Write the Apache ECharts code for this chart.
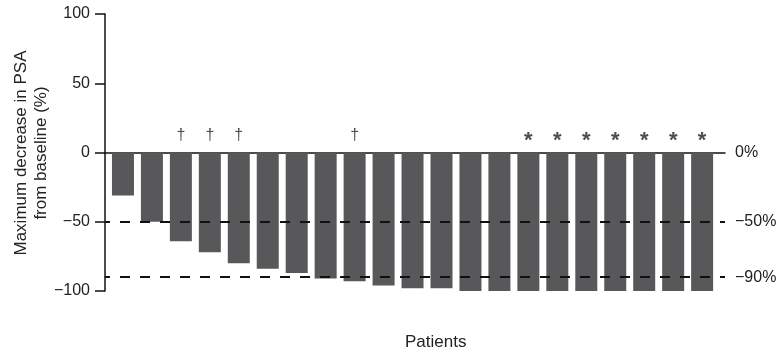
<!DOCTYPE html>
<html><head><meta charset="utf-8">
<script src="https://cdn.jsdelivr.net/npm/echarts@6/dist/echarts.min.js"></script>
<style>html,body{margin:0;padding:0;background:#fff}#c{width:779px;height:360px}</style>
</head><body><div id="c"></div>
<script>
const patients = ['1','2','3','4','5','6','7','8','9','10','11','12','13','14','15','16','17','18','19','20','21'];
const psaDecrease = [-31,-50,-64,-72,-80,-84,-87,-91,-93,-96,-98,-98,-100,-100,-100,-100,-100,-100,-100,-100,-100];
const daggerPatients = [2,3,4,8];
const starPatients = [14,15,16,17,18,19,20];
const markerLevel = 12;
const yTicks = [-100,-50,0,50,100];
const thresholds = [-50,-90];
const rightLabels = ['0%','−50%','−90%'];

const FONT = 'Liberation Sans, Arial, sans-serif';
const chart = echarts.init(document.getElementById('c'));
const barData = psaDecrease.map((v,i)=>[i,v]);
const markData = daggerPatients.map(i=>({value:[i,markerLevel],sym:'†',label:{fontSize:16,offset:[0,0]}}))
  .concat(starPatients.map(i=>({value:[i,markerLevel],sym:'*',label:{fontSize:22,fontWeight:'bold',offset:[0,5]}})));

chart.setOption({
  animation:false,
  textStyle:{fontFamily:FONT},
  grid:{left:105,right:54,top:14,bottom:69},
  xAxis:{type:'value',min:-0.62,max:20.79,
    axisLine:{show:true,onZero:true,lineStyle:{color:'#111',width:1.5}},
    axisTick:{show:false},axisLabel:{show:false},splitLine:{show:false}},
  yAxis:{type:'value',min:-100,max:100,interval:50,
    axisLine:{show:true,onZero:false,lineStyle:{color:'#111',width:1.5}},
    axisTick:{show:true,length:10,lineStyle:{color:'#111',width:1.5}},
    axisLabel:{color:'#222',fontSize:16,margin:15,fontFamily:FONT,
      formatter:v=>String(v).replace('-','−')},
    splitLine:{show:false}},
  graphic:[
    {type:'text',left:405,top:334,style:{text:'Patients',fill:'#222',font:'17px '+FONT}},
    {type:'text',x:31,y:153,rotation:Math.PI/2,
      style:{text:'Maximum decrease in PSA\nfrom baseline (%)',fill:'#222',font:'17px '+FONT,
        align:'center',verticalAlign:'middle',lineHeight:20}}
  ],
  series:[
    {type:'line',data:[],z:1,
      markLine:{silent:true,symbol:'none',
        data:[
          {yAxis:0,lineStyle:{color:'rgba(0,0,0,0)'},label:{formatter:rightLabels[0]}},
          {yAxis:thresholds[0],label:{formatter:rightLabels[1]}},
          {yAxis:thresholds[1],label:{formatter:rightLabels[2]}}
        ],
        lineStyle:{type:[10,10],dashOffset:5,color:'#111',width:2},
        label:{show:true,position:'end',color:'#222',fontSize:16,distance:10,fontFamily:FONT}}},
    {type:'bar',data:barData,barWidth:22,z:3,itemStyle:{color:'#58585a'}},
    {type:'scatter',data:markData,symbolSize:0,z:4,
      label:{show:true,position:'inside',color:'#222',fontFamily:FONT,
        formatter:p=>p.data.sym}}
  ]
});
</script></body></html>
